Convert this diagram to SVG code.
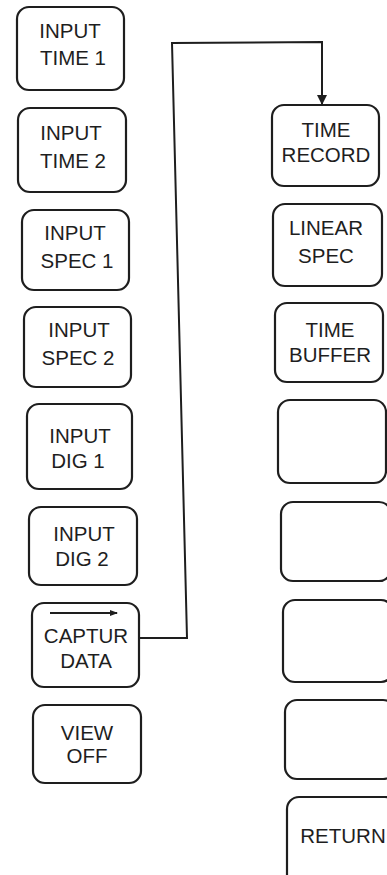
<svg xmlns="http://www.w3.org/2000/svg" width="387" height="875" viewBox="0 0 387 875">
<style>
.box{fill:none;stroke:#1e1e1e;stroke-width:2.2}
.t{font-family:"Liberation Sans",Arial,sans-serif;font-size:20.5px;fill:#1e1e1e;text-anchor:middle}
.wire{fill:none;stroke:#1e1e1e;stroke-width:2}
</style>
<defs>
<marker id="ah" markerWidth="10" markerHeight="10" refX="9" refY="5" orient="auto" markerUnits="userSpaceOnUse">
<path d="M0,0 L10,5 L0,10 Z" fill="#1e1e1e"/>
</marker>
<marker id="ahs" markerWidth="8" markerHeight="8" refX="7" refY="4" orient="auto" markerUnits="userSpaceOnUse">
<path d="M0,1 L8,4 L0,7 Z" fill="#1e1e1e"/>
</marker>
</defs>
<rect width="387" height="875" fill="#ffffff"/>
<g id="input-time-1"><rect class="box" x="17" y="7" width="107" height="83" rx="12"/><text class="t" x="70" y="38">INPUT</text><text class="t" x="73" y="65">TIME 1</text></g>
<g id="input-time-2"><rect class="box" x="18" y="108" width="108" height="84" rx="12"/><text class="t" x="71" y="140">INPUT</text><text class="t" x="73" y="168">TIME 2</text></g>
<g id="input-spec-1"><rect class="box" x="22" y="210" width="107" height="80" rx="12"/><text class="t" x="75" y="240">INPUT</text><text class="t" x="77" y="268">SPEC 1</text></g>
<g id="input-spec-2"><rect class="box" x="24" y="307" width="107" height="80" rx="12"/><text class="t" x="79" y="337">INPUT</text><text class="t" x="78" y="365">SPEC 2</text></g>
<g id="input-dig-1"><rect class="box" x="27" y="404" width="105" height="85" rx="12"/><text class="t" x="80" y="443">INPUT</text><text class="t" x="78" y="468">DIG 1</text></g>
<g id="input-dig-2"><rect class="box" x="29" y="507" width="108" height="78" rx="12"/><text class="t" x="84" y="541">INPUT</text><text class="t" x="82" y="566">DIG 2</text></g>
<g id="captur-data"><rect class="box" x="32" y="603" width="107" height="84" rx="12"/><line class="wire" x1="50" y1="613" x2="117" y2="613" marker-end="url(#ahs)"/><text class="t" x="86" y="643">CAPTUR</text><text class="t" x="86" y="668">DATA</text></g>
<g id="view-off"><rect class="box" x="33" y="705" width="108" height="78" rx="12"/><text class="t" x="87" y="740">VIEW</text><text class="t" x="87" y="763">OFF</text></g>
<g id="time-record"><rect class="box" x="272" y="105" width="107" height="81" rx="12"/><text class="t" x="326" y="137">TIME</text><text class="t" x="326" y="162">RECORD</text></g>
<g id="linear-spec"><rect class="box" x="273" y="204" width="109" height="82" rx="12"/><text class="t" x="326" y="235">LINEAR</text><text class="t" x="326" y="263">SPEC</text></g>
<g id="time-buffer"><rect class="box" x="275" y="303" width="108" height="79" rx="12"/><text class="t" x="330" y="337">TIME</text><text class="t" x="330" y="362">BUFFER</text></g>
<g id="blank-1"><rect class="box" x="278" y="400" width="108" height="83" rx="12"/></g>
<g id="blank-2"><rect class="box" x="281" y="502" width="110" height="79" rx="12"/></g>
<g id="blank-3"><rect class="box" x="283" y="600" width="110" height="82" rx="12"/></g>
<g id="blank-4"><rect class="box" x="285" y="700" width="110" height="79" rx="12"/></g>
<g id="return"><rect class="box" x="287" y="797" width="110" height="90" rx="12"/><text class="t" x="343" y="843">RETURN</text></g>
<g id="connectors">
<polyline class="wire" points="139,638 187,638 172,43 322,42 322,104" marker-end="url(#ah)"/>
</g>
</svg>
